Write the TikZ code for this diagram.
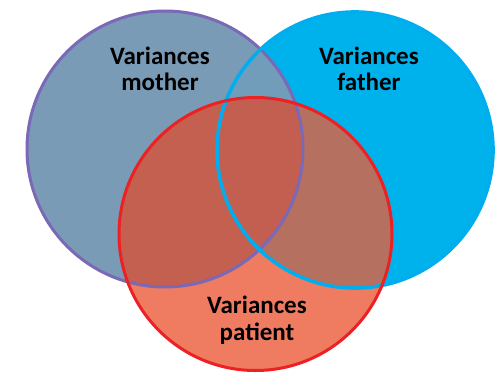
\documentclass[tikz,border=0pt]{standalone}
\usepackage{fontspec}
\setmainfont{Carlito}
\begin{document}
\begin{tikzpicture}[x=1pt,y=-1pt,
  label/.style={font=\fontsize{25}{26.5}\selectfont\bfseries, align=center, inner sep=0pt, text=black},
  rim/.style={line width=3pt}]
\definecolor{motherfill}{RGB}{122,155,182}
\definecolor{fatherfill}{RGB}{0,178,236}
\definecolor{patientfill}{RGB}{239,124,96}
\definecolor{mfboth}{RGB}{114,157,186}
\definecolor{mpboth}{RGB}{195,96,80}
\definecolor{fpboth}{RGB}{182,112,95}
\definecolor{allthree}{RGB}{194,95,80}
\definecolor{motherline}{RGB}{123,104,182}
\definecolor{fatherline}{RGB}{0,174,239}
\definecolor{patientline}{RGB}{237,32,36}
\useasboundingbox (0,0) rectangle (500,374);
\def\mother{(165,149) circle (138)}
\def\father{(355,150) circle (138)}
\def\patient{(255.5,234) circle (136.5)}
% single-set fills
\fill[fatherfill] \father;
\fill[motherfill] \mother;
\begin{scope}
  \clip \mother;
  \fill[mfboth] \father;
\end{scope}
\fill[patientfill] \patient;
% pairwise and triple overlaps inside the patient set
\begin{scope}
  \clip \patient;
  \fill[mpboth] \mother;
  \fill[fpboth] \father;
  \clip \mother;
  \fill[allthree] \father;
\end{scope}
% outlines
\draw[rim, motherline] \mother;
\draw[rim, fatherline, line width=3.6pt] \father;
\draw[rim, patientline] \patient;
% labels (base anchor sits on the last line)
\node[label, anchor=base] (mother) at (160,91) {Variances\\mother};
\node[label, anchor=base] (father) at (369,91) {Variances\\father};
\node[label, anchor=base] (patient) at (257,340) {Variances\\patient};
\end{tikzpicture}
\end{document}
